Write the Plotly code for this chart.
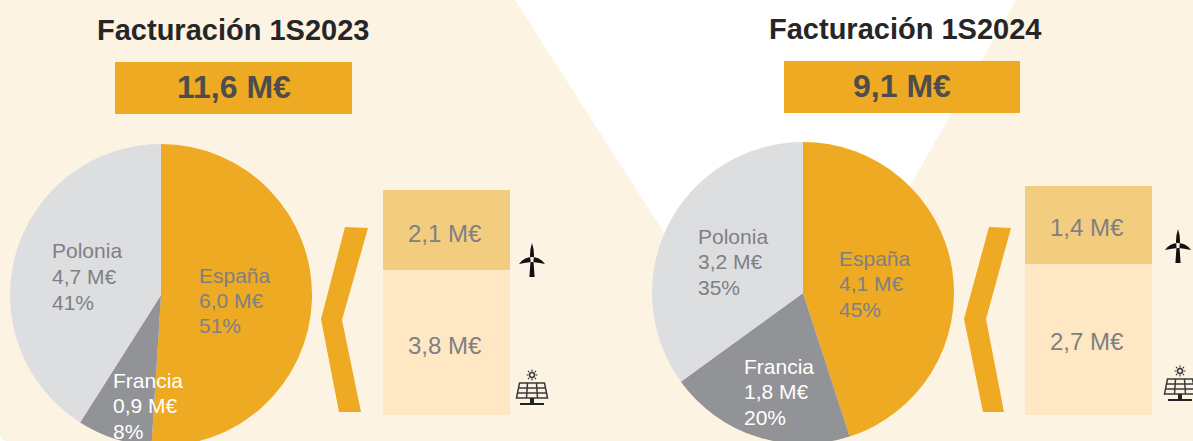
import plotly.graph_objects as go

# ---- data ----
countries = ["España", "Francia", "Polonia"]
share_2023 = [51, 8, 41]
share_2024 = [45, 20, 35]
amount_2023 = ["6,0 M€", "0,9 M€", "4,7 M€"]
amount_2024 = ["4,1 M€", "1,8 M€", "3,2 M€"]
titles = ["Facturación 1S2023", "Facturación 1S2024"]
totals = ["11,6 M€", "9,1 M€"]
tech = ["Solar", "Eólica"]
spain_2023 = [3.8, 2.1]
spain_2024 = [2.7, 1.4]
spain_2023_txt = ["3,8 M€", "2,1 M€"]
spain_2024_txt = ["2,7 M€", "1,4 M€"]

# ---- styles ----
W, H = 1193, 470
CREAM = "#FDF3E3"
AMBER = "#EDAA22"
PIE_COLORS = [AMBER, "#929396", "#DDDEE0"]
WIND = "#F3CD7F"
SUN = "#FDE8C3"
GREY = "#7F8083"
FONT = "Liberation Sans, Arial, sans-serif"

def dx(a, b):
    return [a / W, b / W]

def dy(top, bottom):
    return [(H - bottom) / H, (H - top) / H]

fig = go.Figure()

# helper pixel axis for decoration
fig.add_trace(go.Scatter(x=[0, W], y=[0, H], mode="markers", marker=dict(opacity=0),
                         hoverinfo="skip", showlegend=False))

# pies
for values, cx, cy in ((share_2023, 161, 295), (share_2024, 803, 293)):
    fig.add_trace(go.Pie(labels=countries, values=values, sort=False, direction="clockwise",
                         rotation=0, textinfo="none", hole=0,
                         marker=dict(colors=PIE_COLORS, line=dict(width=0)),
                         domain=dict(x=dx(cx - 151, cx + 151), y=dy(cy - 151, cy + 151)),
                         showlegend=False))

# stacked bars (solar below, wind on top)
for vals, xa, ya in ((spain_2023, "x2", "y2"), (spain_2024, "x3", "y3")):
    for name, v, col in zip(tech, vals, (SUN, WIND)):
        fig.add_trace(go.Bar(x=[0], y=[v], name=name, marker=dict(color=col, line=dict(width=0)),
                             xaxis=xa, yaxis=ya, showlegend=False, width=1))

shapes = []
def poly(points, color, **kw):
    d = "M" + " L".join(f"{x},{y}" for x, y in points) + " Z"
    shapes.append(dict(type="path", path=d, fillcolor=color, line=dict(width=0),
                       xref="x", yref="y", layer="below", **kw))

# cream backdrop with a white wedge at the top
shapes.append(dict(type="path",
                   path=f"M0,0 L515,0 L780,414 L1016,0 L{W},0 L{W},{H} L6,{H} L6,441 Q1,440 0,435 Z",
                   fillcolor=CREAM, line=dict(width=0), xref="x", yref="y", layer="below"))

# header boxes
for x0, x1, y0, y1 in ((115, 352, 62, 114), (784, 1020, 61, 113)):
    shapes.append(dict(type="rect", x0=x0, x1=x1, y0=y0, y1=y1, fillcolor=AMBER,
                       line=dict(width=0), xref="x", yref="y", layer="below"))

# chevrons
poly([(345, 227), (368, 228), (342, 320), (361, 412), (339, 412), (321, 319)], AMBER)
poly([(989, 227), (1011, 228), (986, 319), (1004, 412), (983, 412), (964, 319)], AMBER)

# icons
def turbine(cx, top):
    hub = top + 17
    d = (f"M{cx-2.6},{top+34} L{cx-1.4},{hub} L{cx+1.4},{hub} L{cx+2.6},{top+34} Z "
         f"M{cx},{top} Q{cx+3},{top+9} {cx+1.5},{hub} L{cx-1.5},{hub} Q{cx-3},{top+9} {cx},{top} Z "
         f"M{cx},{hub-3} Q{cx+8},{hub-3} {cx+13},{hub+4} Q{cx+6},{hub+2.5} {cx},{hub+2} Z "
         f"M{cx},{hub-3} Q{cx-8},{hub-3} {cx-13},{hub+4} Q{cx-6},{hub+2.5} {cx},{hub+2} Z")
    shapes.append(dict(type="path", path=d, fillcolor="#111111", line=dict(width=0), xref="x", yref="y"))

def solar(cx, top):
    ink = "#3a3a3a"
    sy = top - 8
    shapes.append(dict(type="circle", x0=cx - 2.5, x1=cx + 2.5, y0=sy - 2.5, y1=sy + 2.5,
                       line=dict(color=ink, width=1.5), xref="x", yref="y"))
    rays = [(0, -5.5, 0, -3.5), (0, 3.5, 0, 5.5), (-5.5, 0, -3.5, 0), (3.5, 0, 5.5, 0),
            (-4, -4, -2.8, -2.8), (4, -4, 2.8, -2.8), (-4, 4, -2.8, 2.8), (4, 4, 2.8, 2.8)]
    d = " ".join(f"M{cx+a},{sy+b} L{cx+c},{sy+e}" for a, b, c, e in rays)
    # panel outline and grid
    h = 15
    d2 = f"M{cx-12.5},{top} L{cx+12.5},{top} L{cx+15.5},{top+h} L{cx-15.5},{top+h} Z "
    d2 += f"M{cx-13.5},{top+5} L{cx+13.5},{top+5} M{cx-14.5},{top+10} L{cx+14.5},{top+10} "
    for t, b in ((-4.5, -5.5), (4.5, 5.5)):
        d2 += f"M{cx+t},{top} L{cx+b},{top+h} "
    for p, w in ((d, 1.2), (d2, 1.5)):
        shapes.append(dict(type="path", path=p, line=dict(color=ink, width=w), xref="x", yref="y"))
    shapes.append(dict(type="path",
                       path=f"M{cx-2},{top+h} L{cx+2},{top+h} L{cx+2},{top+h+5} L{cx+12},{top+h+5} "
                            f"L{cx+12},{top+h+7} L{cx-12},{top+h+7} L{cx-12},{top+h+5} L{cx-2},{top+h+5} Z",
                       fillcolor="#222222", line=dict(width=0), xref="x", yref="y"))

turbine(532, 243)
turbine(1178, 229)
solar(532, 383)
solar(1180, 379)

# text
ann = []
def text(x, y, s, size, color, bold=False, align="center"):
    ann.append(dict(x=x, y=y, xref="x", yref="y", text=f"<b>{s}</b>" if bold else s, showarrow=False,
                    xanchor=align, yanchor="middle", align=align,
                    font=dict(family=FONT, size=size, color=color)))

text(233, 29.5, titles[0], 29, "#262626", bold=True)
text(905, 28.5, titles[1], 29, "#262626", bold=True)
text(233.5, 87, totals[0], 32, "#4D4D4D", bold=True)
text(902, 86, totals[1], 32, "#4D4D4D", bold=True)

def pie_label(x, ys, name, amount, pct, color):
    for y, s in zip(ys, (name, amount, f"{pct}%")):
        text(x, y, s, 21, color, align="left")

pos_2023 = [(197, (275, 300, 325), GREY), (111, (380, 405, 431), "#FFFFFF"), (50, (250, 276, 302), GREY)]
pos_2024 = [(837, (258, 283, 309), GREY), (742, (366, 391, 417), "#FFFFFF"), (696, (236, 261, 287), GREY)]
for i, name in enumerate(countries):
    pie_label(pos_2023[i][0], pos_2023[i][1], name, amount_2023[i], share_2023[i], pos_2023[i][2])
    pie_label(pos_2024[i][0], pos_2024[i][1], name, amount_2024[i], share_2024[i], pos_2024[i][2])

text(445, 345, spain_2023_txt[0], 24, GREY)
text(445, 233, spain_2023_txt[1], 24, GREY)
text(1087, 341, spain_2024_txt[0], 24, GREY)
text(1087, 227, spain_2024_txt[1], 24, GREY)

hidden = dict(visible=False, fixedrange=True)
fig.update_layout(
    width=W, height=H, margin=dict(l=0, r=0, t=0, b=0, pad=0),
    paper_bgcolor="#FFFFFF", plot_bgcolor="rgba(0,0,0,0)",
    barmode="stack", bargap=0, showlegend=False, autosize=False,
    shapes=shapes, annotations=ann,
    xaxis=dict(range=[0, W], domain=[0, 1], **hidden),
    yaxis=dict(range=[H, 0], domain=[0, 1], **hidden),
    xaxis2=dict(range=[-0.5, 0.5], domain=dx(383, 510), anchor="y2", **hidden),
    yaxis2=dict(range=[0, sum(spain_2023)], domain=dy(190, 415), anchor="x2", **hidden),
    xaxis3=dict(range=[-0.5, 0.5], domain=dx(1025, 1152), anchor="y3", **hidden),
    yaxis3=dict(range=[0, sum(spain_2024)], domain=dy(186, 415), anchor="x3", **hidden),
)

post = ("document.body.style.margin='0';document.body.style.overflow='hidden';"
        "document.documentElement.style.overflow='hidden';")
fig.write_html("out.html", config=dict(displayModeBar=False), post_script=post)
